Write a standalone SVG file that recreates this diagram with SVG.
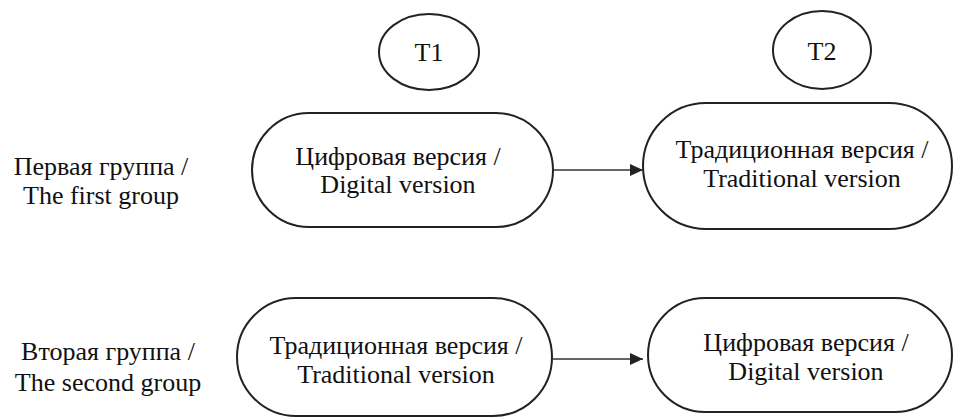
<svg xmlns="http://www.w3.org/2000/svg" width="955" height="417" viewBox="0 0 955 417">
<defs>
<style>
.n{fill:#fff;stroke:#222;stroke-width:2}
.t{font-family:"Liberation Serif","Times New Roman","DejaVu Serif",serif;font-size:26px;fill:#111;text-anchor:middle}
.c{stroke:#333;stroke-width:1.6;fill:none}
</style>
<marker id="ah" markerWidth="13" markerHeight="12" refX="13" refY="6" orient="auto" markerUnits="userSpaceOnUse">
<path d="M0,0 L13,6 L0,12 Z" fill="#222"/>
</marker>
</defs>
<rect width="955" height="417" fill="#fff"/>
<g id="label1">
<text class="t" x="101" y="175">Первая группа /</text>
<text class="t" x="101" y="204">The first group</text>
</g>
<g id="label2">
<text class="t" x="108" y="360">Вторая группа /</text>
<text class="t" x="108" y="391">The second group</text>
</g>
<g id="T1">
<ellipse class="n" cx="429" cy="52" rx="50" ry="38"/>
<text class="t" x="429" y="61">T1</text>
</g>
<g id="T2">
<ellipse class="n" cx="822" cy="50" rx="49" ry="39"/>
<text class="t" x="822" y="60">T2</text>
</g>
<g id="n1">
<rect class="n" x="252" y="113" width="301" height="114" rx="57"/>
<text class="t" x="398" y="165">Цифровая версия /</text>
<text class="t" x="398" y="193">Digital version</text>
</g>
<g id="n2">
<rect class="n" x="643" y="103" width="309" height="126" rx="63"/>
<text class="t" x="802" y="158">Традиционная версия /</text>
<text class="t" x="802" y="187">Traditional version</text>
</g>
<g id="n3">
<rect class="n" x="237" y="298" width="315" height="118" rx="59"/>
<text class="t" x="396" y="354">Традиционная версия /</text>
<text class="t" x="396" y="383">Traditional version</text>
</g>
<g id="n4">
<rect class="n" x="648" y="298" width="304" height="114" rx="57"/>
<text class="t" x="806" y="351">Цифровая версия /</text>
<text class="t" x="806" y="380">Digital version</text>
</g>
<g id="connectors">
<line class="c" x1="553" y1="170" x2="643" y2="170" marker-end="url(#ah)"/>
<line class="c" x1="552" y1="359" x2="643" y2="359" marker-end="url(#ah)"/>
</g>
</svg>
